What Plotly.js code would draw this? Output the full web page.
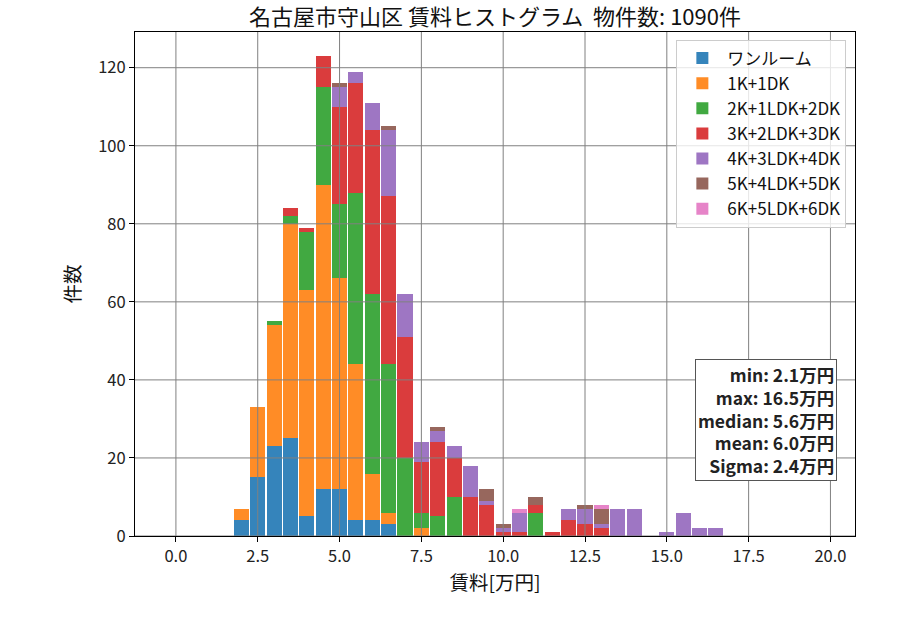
<!DOCTYPE html>
<html lang="ja">
<head>
<meta charset="utf-8">
<title>名古屋市守山区 賃料ヒストグラム</title>
<script src="https://cdn.plot.ly/plotly-3.0.1.min.js"></script>
<style>
  html, body { margin: 0; padding: 0; background: #ffffff; }
  #chart { width: 900px; height: 630px; }
</style>
</head>
<body>
<div id="chart"></div>
<script>
// bin centres, 0.5万円 wide
const binCenters = [
  2.0, 2.5, 3.0, 3.5, 4.0, 4.5, 5.0, 5.5, 6.0, 6.5,
  7.0, 7.5, 8.0, 8.5, 9.0, 9.5, 10.0, 10.5, 11.0, 11.5,
  12.0, 12.5, 13.0, 13.5, 14.0, 14.5, 15.0, 15.5, 16.0, 16.5,
];

const layoutNames = [
  "ワンルーム",
  "1K+1DK",
  "2K+1LDK+2DK",
  "3K+2LDK+3DK",
  "4K+3LDK+4DK",
  "5K+4LDK+5DK",
  "6K+5LDK+6DK",
];

const oneRoomCounts = [4, 15, 23, 25, 5, 12, 12, 4, 4, 3, 0, 0, 0, 0, 0, 0, 0, 0, 0, 0, 0, 0, 0, 0, 0, 0, 0, 0, 0, 0];
const oneKCounts = [3, 18, 31, 55, 58, 78, 54, 40, 12, 3, 0, 2, 0, 0, 0, 0, 0, 0, 0, 0, 0, 0, 0, 0, 0, 0, 0, 0, 0, 0];
const twoKCounts = [0, 0, 1, 2, 15, 25, 19, 44, 46, 38, 20, 4, 5, 10, 0, 0, 0, 0, 6, 0, 0, 0, 0, 0, 0, 0, 0, 0, 0, 0];
const threeKCounts = [0, 0, 0, 2, 1, 8, 25, 28, 42, 43, 31, 13, 19, 10, 10, 8, 1, 1, 2, 1, 4, 3, 2, 0, 0, 0, 0, 0, 0, 0];
const fourKCounts = [0, 0, 0, 0, 0, 0, 5, 3, 7, 17, 11, 5, 3, 3, 8, 1, 1, 5, 0, 0, 3, 4, 1, 7, 7, 0, 1, 6, 2, 2];
const fiveKCounts = [0, 0, 0, 0, 0, 0, 1, 0, 0, 1, 0, 0, 1, 0, 0, 3, 1, 0, 2, 0, 0, 1, 4, 0, 0, 0, 0, 0, 0, 0];
const sixKCounts = [0, 0, 0, 0, 0, 0, 0, 0, 0, 0, 0, 0, 0, 0, 0, 0, 0, 1, 0, 0, 0, 0, 1, 0, 0, 0, 0, 0, 0, 0];

const seriesCounts = [oneRoomCounts, oneKCounts, twoKCounts, threeKCounts, fourKCounts, fiveKCounts, sixKCounts];

const xTicks = [0, 2.5, 5, 7.5, 10, 12.5, 15, 17.5, 20];
const yTicks = [0, 20, 40, 60, 80, 100, 120];

const statLines = [
  "min: 2.1万円",
  "max: 16.5万円",
  "median: 5.6万円",
  "mean: 6.0万円",
  "Sigma: 2.4万円",
];

const titleText = "名古屋市守山区 賃料ヒストグラム  物件数: 1090件";

// tab10 at alpha 0.9 on white
const seriesColors = [
  "rgba(31,119,180,0.9)",
  "rgba(255,127,14,0.9)",
  "rgba(44,160,44,0.9)",
  "rgba(214,39,40,0.9)",
  "rgba(148,103,189,0.9)",
  "rgba(140,86,75,0.9)",
  "rgba(227,119,194,0.9)",
];

const FONT = "'Noto Sans CJK JP', 'Noto Sans', sans-serif";

function buildTraces() {
  return layoutNames.map((name, i) => ({
    type: "bar",
    name,
    x: binCenters,
    y: seriesCounts[i],
    width: 0.46,
    marker: { color: seriesColors[i], line: { width: 0 } },
    hoverinfo: "skip",
  }));
}

// matplotlib draws the grid over the bars here, so do it with shapes
function gridShapes() {
  const line = { color: "#808080", width: 1 };
  const vertical = xTicks.map((v) => ({
    type: "line", layer: "above", xref: "x", yref: "paper",
    x0: v, x1: v, y0: 0, y1: 1, line,
  }));
  const horizontal = yTicks.map((v) => ({
    type: "line", layer: "above", xref: "paper", yref: "y",
    x0: 0, x1: 1, y0: v, y1: v, line,
  }));
  return vertical.concat(horizontal);
}

function axisBase() {
  return {
    showgrid: false,
    zeroline: false,
    showline: true,
    mirror: true,
    linecolor: "#000000",
    linewidth: 1,
    ticks: "outside",
    ticklen: 5,
    tickwidth: 1,
    tickcolor: "#000000",
    tickfont: { family: FONT, size: 16.5, color: "#222222" },
  };
}

function buildLayout() {
  return {
    width: 900,
    height: 630,
    margin: { l: 135, r: 45, t: 32, b: 94 },
    paper_bgcolor: "#ffffff",
    plot_bgcolor: "#ffffff",
    barmode: "stack",
    font: { family: FONT, color: "#111111" },
    title: {
      text: titleText,
      font: { family: FONT, size: 22, color: "#111111" },
      xref: "paper",
      x: 0.5,
      xanchor: "center",
      yref: "container",
      y: 0.972,
      yanchor: "middle",
    },
    xaxis: Object.assign(axisBase(), {
      range: [-1.25, 20.75],
      tickvals: xTicks,
      ticktext: xTicks.map((v) => v.toFixed(1)),
      title: { text: "賃料[万円]", font: { family: FONT, size: 19.5 }, standoff: 6 },
    }),
    yaxis: Object.assign(axisBase(), {
      range: [0, 129.15],
      tickvals: yTicks,
      ticktext: yTicks.map(String),
      title: { text: "件数", font: { family: FONT, size: 19.5 }, standoff: 12 },
    }),
    legend: {
      x: 0.988,
      xanchor: "right",
      y: 0.985,
      yanchor: "top",
      bgcolor: "rgba(255,255,255,0.8)",
      bordercolor: "#cccccc",
      borderwidth: 1,
      font: { family: FONT, size: 17, color: "#111111" },
      traceorder: "normal",
      itemwidth: 40,
    },
    shapes: gridShapes(),
    annotations: [
      {
        xref: "paper",
        yref: "paper",
        x: 0.9746,
        xanchor: "right",
        y: 0.109,
        yanchor: "bottom",
        showarrow: false,
        align: "right",
        text: statLines.map((s) => `<b>${s}</b>`).join("<br>"),
        font: { family: FONT, size: 17.5, color: "#222222" },
        bgcolor: "#ffffff",
        bordercolor: "#555555",
        borderwidth: 1,
        borderpad: 2,
      },
    ],
    hovermode: false,
  };
}

Plotly.newPlot("chart", buildTraces(), buildLayout(), {
  displayModeBar: false,
  staticPlot: true,
});
</script>
</body>
</html>
